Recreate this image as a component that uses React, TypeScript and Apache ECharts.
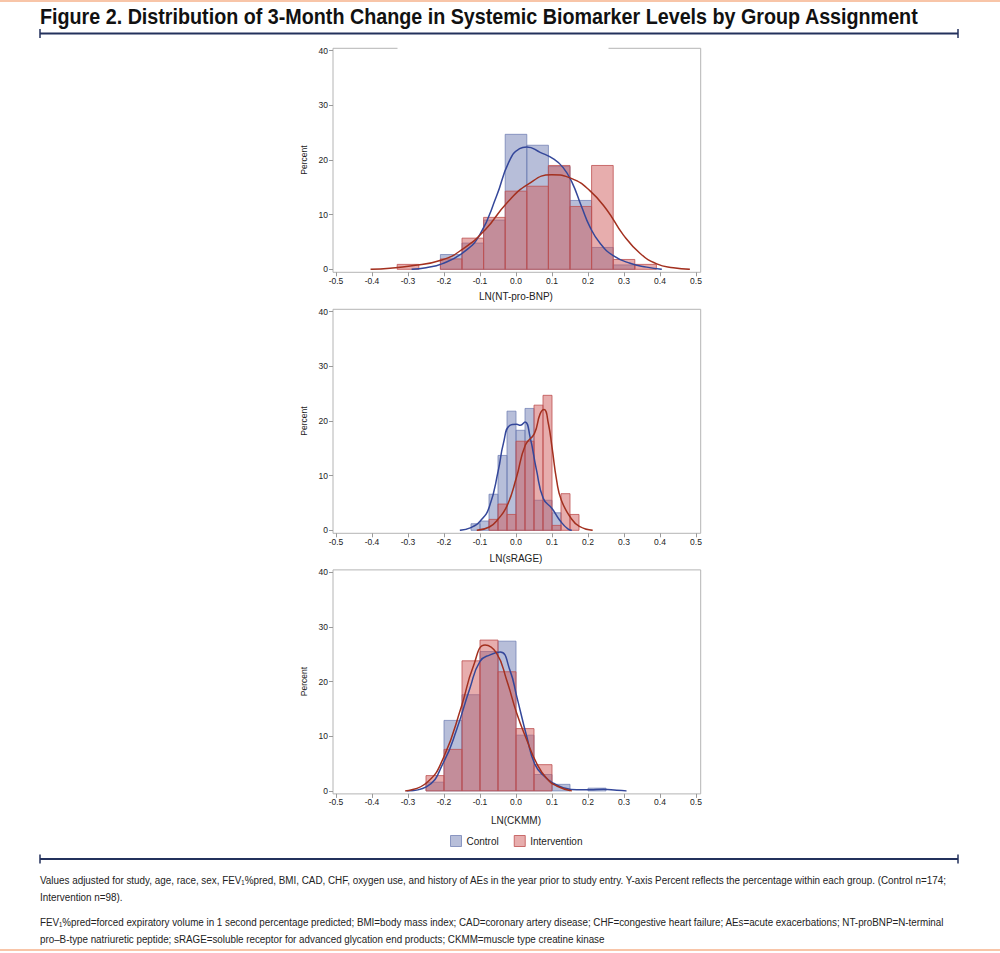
import React, { useEffect, useRef } from "react";
import * as echarts from "echarts";

// ---------- Text ----------
const TITLE =
  "Figure 2. Distribution of 3-Month Change in Systemic Biomarker Levels by Group Assignment";
const FOOTNOTES = [
  "Values adjusted for study, age, race, sex, FEV\u2081%pred, BMI, CAD, CHF, oxygen use, and history of AEs in the year prior to study entry. Y-axis Percent reflects the percentage within each group. (Control n=174;",
  "Intervention n=98).",
  "FEV\u2081%pred=forced expiratory volume in 1 second percentage predicted; BMI=body mass index; CAD=coronary artery disease; CHF=congestive heart failure; AEs=acute exacerbations; NT-proBNP=N-terminal",
  "pro\u2013B-type natriuretic peptide; sRAGE=soluble receptor for advanced glycation end products; CKMM=muscle type creatine kinase",
];
const GROUPS = ["Control", "Intervention"];
const X_NAMES = ["LN(NT-pro-BNP)", "LN(sRAGE)", "LN(CKMM)"];
const Y_NAME = "Percent";

// ---------- Data: NT-pro-BNP ----------
const bnpBinWidth = 0.06;
const bnpBinCenters = [-0.3, -0.24, -0.18, -0.12, -0.06, 0.0, 0.06, 0.12, 0.18, 0.24, 0.3, 0.36];
const bnpControl = [0, 0, 2.7, 4.8, 9.0, 24.7, 22.7, 18.8, 12.6, 4.0, 0.8, 0];
const bnpIntervention = [0.9, 0, 1.9, 5.7, 9.5, 14.3, 15.2, 19.0, 11.5, 19.0, 1.8, 0.9];
const bnpControlKde = [
  [-0.29, 0], [-0.25, 0.3], [-0.206, 1.0], [-0.146, 3.1], [-0.1, 6.4], [-0.054, 13.4],
  [-0.02, 19.6], [0.01, 22.1], [0.03, 22.4], [0.067, 21.4], [0.104, 20.2], [0.131, 18.6],
  [0.155, 16.0], [0.182, 11.5], [0.205, 7.8], [0.233, 4.8], [0.27, 2.5], [0.317, 1.1],
  [0.363, 0.4], [0.405, 0],
];
const bnpInterventionKde = [
  [-0.404, 0], [-0.35, 0.2], [-0.294, 0.6], [-0.206, 1.7], [-0.146, 3.8], [-0.086, 7.2],
  [-0.026, 12.1], [0.034, 15.6], [0.099, 17.3], [0.155, 16.6], [0.205, 14.4], [0.252, 10.9],
  [0.298, 6.3], [0.345, 2.9], [0.391, 1.0], [0.437, 0.3], [0.483, 0],
];

// ---------- Data: sRAGE ----------
const srageBinWidth = 0.025;
const srageBinCenters = [-0.1125, -0.0875, -0.0625, -0.0375, -0.0125, 0.0125, 0.0375, 0.0625, 0.0875, 0.1125, 0.1375, 0.1625];
const srageControl = [1.2, 1.7, 6.6, 13.7, 21.8, 18.3, 22.3, 5.5, 5.5, 3.2, 0, 0];
const srageIntervention = [0, 0, 2.0, 4.8, 2.9, 16.3, 16.3, 22.9, 24.7, 0.9, 6.7, 2.9];
const srageControlKde = [
  [-0.156, 0], [-0.125, 0.5], [-0.098, 1.8], [-0.074, 4.3], [-0.049, 11.0], [-0.035, 15.9],
  [-0.017, 19.2], [0.002, 19.4], [0.012, 19.2], [0.025, 19.8], [0.039, 17.1], [0.057, 11.0],
  [0.076, 5.8], [0.1, 4.0], [0.122, 1.8], [0.145, 0.2], [0.155, 0],
];
const srageInterventionKde = [
  [-0.109, 0], [-0.074, 0.6], [-0.049, 2.1], [-0.024, 4.6], [0.001, 9.6], [0.026, 15.6],
  [0.051, 17.7], [0.067, 21.3], [0.078, 22.1], [0.09, 19.5], [0.1, 15.2], [0.113, 9.1],
  [0.126, 5.5], [0.151, 2.4], [0.176, 0.7], [0.213, 0],
];

// ---------- Data: CKMM ----------
const ckmmBinWidth = 0.05;
const ckmmBinCenters = [-0.225, -0.175, -0.125, -0.075, -0.025, 0.025, 0.075, 0.125, 0.175, 0.225];
const ckmmControl = [1.6, 12.9, 17.6, 25.5, 27.4, 10.2, 3.0, 1.2, 0, 0.5];
const ckmmIntervention = [2.8, 7.6, 23.8, 27.6, 21.8, 11.4, 4.8, 0, 0, 0];
const ckmmControlKde = [
  [-0.304, 0], [-0.248, 0.8], [-0.2, 5.4], [-0.165, 11.2], [-0.128, 18.8], [-0.1, 23.7],
  [-0.072, 24.9], [-0.044, 25.4], [-0.017, 22.1], [0.002, 17.3], [0.03, 9.9], [0.053, 4.8],
  [0.08, 2.6], [0.104, 1.4], [0.131, 0.6], [0.169, 0.2], [0.205, 0.2], [0.243, 0.3],
  [0.28, 0.1], [0.307, 0],
];
const ckmmInterventionKde = [
  [-0.308, 0], [-0.248, 1.5], [-0.2, 6.3], [-0.151, 15.6], [-0.119, 22.7], [-0.086, 26.7],
  [-0.054, 25.2], [-0.026, 20.3], [0.002, 14.2], [0.03, 9.3], [0.057, 5.1], [0.085, 2.3],
  [0.113, 0.9], [0.155, 0],
];

const panels = [
  { width: bnpBinWidth, centers: bnpBinCenters, control: bnpControl, intervention: bnpIntervention, controlKde: bnpControlKde, interventionKde: bnpInterventionKde },
  { width: srageBinWidth, centers: srageBinCenters, control: srageControl, intervention: srageIntervention, controlKde: srageControlKde, interventionKde: srageInterventionKde },
  { width: ckmmBinWidth, centers: ckmmBinCenters, control: ckmmControl, intervention: ckmmIntervention, controlKde: ckmmControlKde, interventionKde: ckmmInterventionKde },
];

// ---------- Styles / layout ----------
const BAR_FILL = ["rgba(111,126,179,0.5)", "rgba(208,91,91,0.5)"];
const BAR_STROKE = ["rgba(111,126,179,0.75)", "rgba(190,80,80,0.8)"];
const CURVE = ["#34479a", "#a3301f"];
const FRAME = "#b4b4b4";
const GRID_LEFT = 336;
const GRID_W = 360;
const GRID_H = 218.6;
const GRID_TOPS = [50.7, 311.7, 572.3];
const NAME_GAPS = [19, 20, 22];

function measure(text: string, font: string): number {
  const ctx = document.createElement("canvas").getContext("2d");
  if (!ctx) return text.length * 6;
  ctx.font = font;
  return ctx.measureText(text).width;
}

function fmt(v: number): string {
  if (Math.abs(v) < 1e-9) return "0.0";
  return v.toFixed(1);
}

export default function App() {
  const ref = useRef<HTMLDivElement>(null);
  useEffect(() => {
    if (!ref.current) return;
    const chart = echarts.init(ref.current, undefined, { renderer: "svg" });

    const grids: any[] = [];
    const xAxes: any[] = [];
    const yAxes: any[] = [];
    const series: any[] = [];
    const graphics: any[] = [];

    panels.forEach((p, i) => {
      const top = GRID_TOPS[i];
      grids.push({ left: GRID_LEFT, top, width: GRID_W, height: GRID_H });
      xAxes.push({
        type: "value",
        gridIndex: i,
        min: -0.5,
        max: 0.5,
        interval: 0.1,
        offset: 3,
        axisLine: { show: false, onZero: false },
        axisTick: { show: true, length: 4, lineStyle: { color: "#9a9a9a" } },
        axisLabel: { fontSize: 8.5, color: "#222", margin: 4, formatter: fmt, fontFamily: "Liberation Sans" },
        splitLine: { show: false },
        name: X_NAMES[i],
        nameLocation: "middle",
        nameGap: NAME_GAPS[i],
        nameTextStyle: { fontSize: 10, color: "#222", fontFamily: "Liberation Sans" },
      });
      yAxes.push({
        type: "value",
        gridIndex: i,
        min: 0,
        max: 40,
        interval: 10,
        offset: 3,
        axisLine: { show: false, onZero: false },
        axisTick: { show: true, length: 4, lineStyle: { color: "#9a9a9a" } },
        axisLabel: { fontSize: 8.5, color: "#222", margin: 5, fontFamily: "Liberation Sans" },
        splitLine: { show: false },
        name: Y_NAME,
        nameLocation: "middle",
        nameGap: 25,
        nameTextStyle: { fontSize: 8.5, color: "#222", fontFamily: "Liberation Sans" },
      });

      const groupsData = [p.control, p.intervention];
      groupsData.forEach((vals, g) => {
        const w = p.width;
        series.push({
          type: "custom",
          name: GROUPS[g],
          xAxisIndex: i,
          yAxisIndex: i,
          z: 2 + g,
          itemStyle: { color: BAR_FILL[g] },
          data: p.centers.map((c, k) => [c, vals[k]]).filter((d) => d[1] > 0),
          encode: { x: 0, y: 1 },
          renderItem: (params: any, api: any) => {
            const x = api.value(0);
            const h = api.value(1);
            const p0 = api.coord([x - w / 2, h]);
            const p1 = api.coord([x + w / 2, 0]);
            return {
              type: "rect",
              shape: { x: p0[0], y: p0[1], width: p1[0] - p0[0], height: p1[1] - p0[1] },
              style: { fill: BAR_FILL[g], stroke: BAR_STROKE[g], lineWidth: 1 },
            };
          },
        });
      });
      [p.controlKde, p.interventionKde].forEach((kde, g) => {
        series.push({
          type: "line",
          name: GROUPS[g] + " density",
          xAxisIndex: i,
          yAxisIndex: i,
          z: 5 + g,
          data: kde,
          smooth: 0.5,
          showSymbol: false,
          symbol: "none",
          lineStyle: { color: CURVE[g], width: 1.5 },
          itemStyle: { color: CURVE[g] },
        });
      });

      // frame
      const fl = GRID_LEFT - 3;
      const fr = GRID_LEFT + GRID_W + 4.7;
      const ft = top - 2.4;
      const fb = top + GRID_H + 3;
      const ls = { stroke: FRAME, lineWidth: 1 };
      graphics.push({ type: "line", shape: { x1: fl, y1: ft, x2: fl, y2: fb }, style: ls, silent: true });
      graphics.push({ type: "line", shape: { x1: fl, y1: fb, x2: fr, y2: fb }, style: ls, silent: true });
      graphics.push({ type: "line", shape: { x1: fr, y1: ft, x2: fr, y2: fb }, style: ls, silent: true });
      if (i === 0) {
        graphics.push({ type: "line", shape: { x1: fl, y1: ft, x2: 397.5, y2: ft }, style: ls, silent: true });
        graphics.push({ type: "line", shape: { x1: 608.5, y1: ft, x2: fr, y2: ft }, style: ls, silent: true });
      } else {
        graphics.push({ type: "line", shape: { x1: fl, y1: ft, x2: fr, y2: ft }, style: ls, silent: true });
      }
    });

    // page decorations
    const peach = "#f8c5a8";
    const navy = "#23315c";
    graphics.push({ type: "rect", shape: { x: 0, y: 0, width: 1000, height: 2 }, style: { fill: peach }, silent: true });
    graphics.push({ type: "rect", shape: { x: 0, y: 949, width: 1000, height: 2 }, style: { fill: peach }, silent: true });
    [33.5, 859].forEach((y) => {
      graphics.push({ type: "line", shape: { x1: 40, y1: y, x2: 958, y2: y }, style: { stroke: navy, lineWidth: 2 }, silent: true });
      graphics.push({ type: "line", shape: { x1: 40, y1: y - 4.5, x2: 40, y2: y + 4.5 }, style: { stroke: navy, lineWidth: 1.5 }, silent: true });
      graphics.push({ type: "line", shape: { x1: 958, y1: y - 4.5, x2: 958, y2: y + 4.5 }, style: { stroke: navy, lineWidth: 1.5 }, silent: true });
    });

    const titleFont = 'bold 22px "Liberation Sans"';
    const titleScale = 879 / measure(TITLE, titleFont);
    graphics.push({
      type: "text",
      x: 40,
      y: 16,
      scaleX: titleScale,
      style: {
        text: TITLE,
        font: titleFont,
        fill: "#111",
        textAlign: "left",
        textVerticalAlign: "middle",
        verticalAlign: "middle",
      },
      silent: true,
    });

    const noteFont = '11px "Liberation Sans"';
    const s1 = 908 / measure(FOOTNOTES[0], noteFont);
    const s3 = 906 / measure(FOOTNOTES[2], noteFont);
    const noteScales = [s1, s1, s3, s3];
    const noteYs = [880, 897, 922, 939];
    FOOTNOTES.forEach((t, k) => {
      graphics.push({
        type: "text",
        x: 40,
        y: noteYs[k],
        scaleX: noteScales[k],
        style: {
          text: t,
          font: noteFont,
          fill: "#222",
          textAlign: "left",
          textVerticalAlign: "middle",
          verticalAlign: "middle",
        },
        silent: true,
      });
    });

    chart.setOption({
      animation: false,
      grid: grids,
      xAxis: xAxes,
      yAxis: yAxes,
      series,
      legend: {
        left: 445,
        top: 830,
        itemWidth: 11,
        itemHeight: 11,
        itemGap: 15,
        selectedMode: false,
        icon: "rect",
        textStyle: { fontSize: 10, color: "#222", fontFamily: "Liberation Sans" },
        data: GROUPS.map((n, g) => ({
          name: n,
          icon: "rect",
          itemStyle: { color: BAR_FILL[g], borderColor: BAR_STROKE[g], borderWidth: 1 },
        })),
      },
      graphic: { elements: graphics },
    });

    return () => chart.dispose();
  }, []);

  return (
    <div
      ref={ref}
      style={{ position: "absolute", left: 0, top: 0, width: "1000px", height: "953px", background: "#fff" }}
    />
  );
}
